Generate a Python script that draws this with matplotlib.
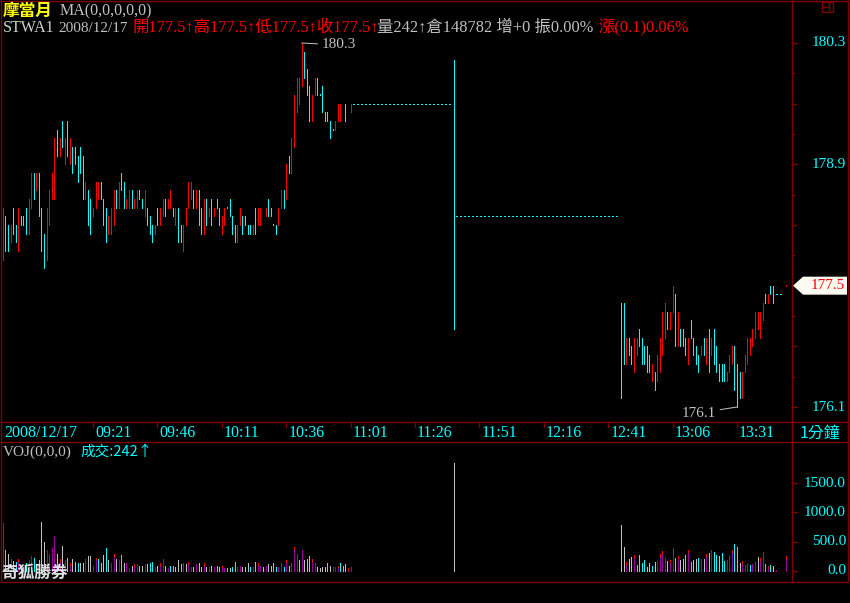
import matplotlib
matplotlib.use('Agg')
import matplotlib.pyplot as plt
import matplotlib.transforms as mtransforms
from matplotlib.patches import Polygon, Rectangle

W, H = 850, 603

# minute index 0 = 08:46
tick_pos = [35, 60, 85, 110, 135, 160, 185, 210, 235, 260, 285]
tick_labels = ['09:21', '09:46', '10:11', '10:36', '11:01', '11:26',
               '11:51', '12:16', '12:41', '13:06', '13:31']

price_ticks = [180.3, 178.9, 176.1]
last_price = 177.5
vol_ticks = [1500, 1000, 500, 0]

# morning session, minutes 0..135
am_high = [178.4, 178.3, 178.2, 178.2, 178.4, 178.2, 178.4, 178.3, 178.3, 178.4,
           178.5, 178.8, 178.8, 178.8, 178.8, 178.4, 178.1, 178.4, 178.6, 178.8,
           179.2, 179.3, 179.2, 179.4, 179.2, 179.4, 179.2, 179.1, 179.1, 179.0,
           179.1, 179.0, 178.7, 178.6, 178.5, 178.4, 178.7, 178.7, 178.7, 178.5,
           178.4, 178.3, 178.4, 178.6, 178.6, 178.7, 178.8, 178.7, 178.5, 178.6,
           178.6, 178.5, 178.6, 178.6, 178.5, 178.6, 178.4, 178.3, 178.2, 178.2,
           178.4, 178.4, 178.5, 178.5, 178.5, 178.6, 178.4, 178.4, 178.4, 178.2,
           178.2, 178.4, 178.7, 178.7, 178.6, 178.6, 178.6, 178.4, 178.5, 178.5,
           178.4, 178.5, 178.4, 178.5, 178.4, 178.3, 178.4, 178.4, 178.5, 178.3,
           178.2, 178.2, 178.4, 178.3, 178.3, 178.2, 178.2, 178.2, 178.4, 178.4,
           178.4, 178.3, 178.4, 178.5, 178.4, 178.2, 178.2, 178.4, 178.6, 178.6,
           178.9, 179.0, 179.2, 179.7, 179.9, 179.9, 180.3, 180.2, 180.0, 179.8,
           179.7, 179.9, 179.9, 179.7, 179.8, 179.5, 179.5, 179.4, 179.3, 179.4,
           179.6, 179.6, 179.5, 179.6, 179.5, 179.6]
am_low = [177.8, 177.9, 177.9, 178.0, 178.1, 178.0, 177.9, 178.2, 178.2, 178.1,
          178.1, 178.4, 178.5, 178.6, 178.3, 177.9, 177.7, 177.8, 178.2, 178.5,
          178.5, 179.0, 179.0, 179.1, 178.9, 179.0, 178.9, 178.8, 178.9, 178.7,
          178.8, 178.5, 178.5, 178.2, 178.1, 178.3, 178.4, 178.5, 178.5, 178.2,
          178.0, 178.1, 178.1, 178.2, 178.4, 178.4, 178.6, 178.4, 178.4, 178.4,
          178.4, 178.4, 178.4, 178.5, 178.4, 178.3, 178.2, 178.1, 178.0, 178.1,
          178.2, 178.2, 178.3, 178.3, 178.4, 178.4, 178.3, 178.2, 178.0, 178.0,
          177.9, 178.2, 178.4, 178.5, 178.4, 178.4, 178.2, 178.1, 178.1, 178.2,
          178.3, 178.2, 178.3, 178.4, 178.2, 178.1, 178.2, 178.4, 178.3, 178.1,
          178.0, 178.0, 178.2, 178.1, 178.2, 178.1, 178.1, 178.1, 178.1, 178.2,
          178.2, 178.3, 178.3, 178.3, 178.3, 178.2, 178.1, 178.2, 178.4, 178.4,
          178.5, 178.8, 178.8, 179.1, 179.5, 179.6, 179.8, 179.9, 179.7, 179.4,
          179.4, 179.7, 179.7, 179.7, 179.5, 179.4, 179.4, 179.2, 179.3, 179.3,
          179.4, 179.4, 179.5, 179.4, 179.5, 179.5]
am_dir = ("rccrccrccc" "rrcrcccrrr" "rcrcrcrccc" "ccrccrrrcc" "crrrcrccrr"
          "crrccrcccr" "crrcrrcrcc" "rrrrcrccrc" "rcrccrrccc" "crrccccrcr"
          "rcrccccrrc" "rcrrrrrccc" "rrcccccccr" "rrccrr")
am_vol = [811, 345, 276, 190, 161, 155, 190, 60, 60, 138,
          173, 242, 224, 60, 173, 828, 483, 345, 276, 380,
          587, 276, 190, 431, 173, 224, 121, 207, 155, 138,
          138, 121, 190, 242, 242, 86, 224, 207, 121, 259,
          380, 173, 138, 276, 207, 173, 259, 121, 121, 35,
          86, 104, 104, 86, 86, 104, 104, 138, 155, 52,
          86, 121, 207, 86, 35, 86, 86, 69, 173, 104,
          121, 104, 155, 52, 52, 104, 138, 69, 121, 69,
          69, 86, 69, 86, 69, 86, 35, 35, 35, 52,
          155, 69, 86, 69, 52, 121, 52, 52, 155, 121,
          86, 52, 86, 104, 86, 121, 52, 69, 138, 52,
          173, 86, 121, 397, 276, 173, 345, 173, 207, 242,
          190, 121, 69, 35, 69, 69, 121, 86, 69, 52,
          86, 121, 86, 104, 35, 69]
am_vcol = ("pcgrgcrgcc" "ppcggggppp" "pgrgpcrggc" "ggpggprcgg" "cgprgpcgpp"
           "grpcgpgccp" "grpgpccggc" "rgrpgpggrg" "pgpcgrpcgc" "cppgggcpcr"
           "pgpggccppc" "rgrrpgpggg" "rpggggcgpp" "rccgrp")

# afternoon session, minutes 240..299
pm_start = 240
pm_high = [177.3, 177.3, 176.9, 176.9, 176.8, 176.9, 176.9, 177.0, 176.9, 176.8,
           176.8, 176.7, 176.6, 176.5, 176.7, 176.9, 177.2, 177.3, 177.2, 177.2,
           177.5, 177.4, 177.2, 177.0, 177.0, 176.9, 176.9, 177.1, 176.9, 176.8,
           176.7, 176.8, 176.9, 176.9, 177.0, 176.9, 177.0, 176.8, 176.6, 176.6,
           176.6, 176.5, 176.7, 176.8, 176.8, 176.6, 176.5, 176.5, 176.7, 176.9,
           176.9, 177.0, 177.2, 177.2, 177.2, 177.3, 177.4, 177.4, 177.5, 177.5]
pm_low = [176.2, 176.6, 176.6, 176.7, 176.6, 176.5, 176.7, 176.8, 176.6, 176.6,
          176.5, 176.5, 176.4, 176.3, 176.4, 176.5, 176.7, 176.9, 177.0, 177.0,
          177.2, 176.8, 176.8, 176.8, 176.8, 176.7, 176.6, 176.9, 176.7, 176.6,
          176.5, 176.7, 176.7, 176.6, 176.5, 176.7, 176.6, 176.5, 176.4, 176.4,
          176.4, 176.4, 176.5, 176.6, 176.3, 176.1, 176.2, 176.2, 176.5, 176.6,
          176.7, 176.8, 176.9, 177.0, 176.9, 177.1, 177.3, 177.3, 177.4, 177.3]
pm_dir = ("ccrccrrccc" "ccrcrrrrcr" "rcrcccrccc" "crcrcrcccc" "crrrcccrrr"
          "rrrrrrcrcc")
pm_vol = [787, 399, 146, 202, 230, 264, 96, 264, 129, 180,
          67, 129, 79, 146, 163, 281, 332, 214, 163, 180,
          382, 214, 247, 180, 197, 264, 348, 146, 180, 197,
          214, 197, 197, 281, 298, 348, 315, 264, 247, 298,
          163, 180, 247, 348, 450, 399, 129, 163, 96, 112,
          96, 112, 146, 230, 214, 315, 112, 79, 96, 79]
pm_vcol = ("ggrggrcccc" "ggcgprrpgr" "rcrggcrcgg" "cpgrgrccgc" "crrrccgrpr"
           "cprgrrcrcg")

# single trades during the quiet period and at the close
odd_min = [175, 304]
odd_high = [180.1, 177.5]
odd_low = [177.0, 177.5]
odd_dir = "cr"
odd_vol_min = [175, 300, 304]
odd_vol = [1850, 11, 247]
odd_vcol = "gpr"

# minutes without trades (flat dotted close)
flat_start = [136, 176, 300]
flat_end = [174, 239, 303]
flat_price = [179.6, 178.3, 177.4]

RED = '#ff0000'
CYAN = '#00ffff'
GRAY = '#c0c0c0'
BORDER = '#800000'
PURPLE = '#a000a0'
dir_color = {'r': RED, 'c': CYAN}
vol_color = {'p': PURPLE, 'r': PURPLE, 'g': GRAY, 'c': CYAN}
serif = ['Liberation Serif', 'Noto Sans CJK TC']
cjk = ['Noto Sans CJK TC', 'Liberation Serif']

PX = 0.72  # one pixel in points

fig = plt.figure(figsize=(W / 100, H / 100), dpi=100, facecolor='black')


def frac(x0, y0, x1, y1):
    return [x0 / W, 1 - y1 / H, (x1 - x0) / W, (y1 - y0) / H]


axp = fig.add_axes(frac(2, 2, 792, 422))
axv = fig.add_axes(frac(2, 442, 792, 582))
xlim = ((2 - 2.84) / 2.576, (792 - 2.84) / 2.576)
for a in (axp, axv):
    a.set_facecolor('black')
    a.set_xlim(*xlim)
    a.axis('off')
axp.set_ylim(175.927, 180.773)
axv.set_ylim(-198, 2215)

# price bars
mins, his, los, cols = [], [], [], []
for k in range(len(am_high)):
    mins.append(k); his.append(am_high[k]); los.append(am_low[k]); cols.append(dir_color[am_dir[k]])
for k in range(len(pm_high)):
    mins.append(pm_start + k); his.append(pm_high[k]); los.append(pm_low[k]); cols.append(dir_color[pm_dir[k]])
for k in range(len(odd_min)):
    mins.append(odd_min[k]); his.append(odd_high[k]); los.append(odd_low[k]); cols.append(dir_color[odd_dir[k]])
his = [h + 0.006 if h == l else h for h, l in zip(his, los)]
axp.vlines(mins, los, his, colors=cols, lw=PX, antialiased=False)

axp.hlines(flat_price, flat_start, flat_end, colors=CYAN, lw=1.0,
           linestyles=(0, (1, 2)), antialiased=False)

# high / low labels
axp.annotate('180.3', xy=(116, 180.3), xytext=(20, -2), textcoords='offset pixels',
             color=GRAY, fontsize=11, family=serif, ha='left', va='center',
             arrowprops=dict(arrowstyle='-', color=GRAY, lw=PX, shrinkA=1, shrinkB=0))
axp.annotate('176.1', xy=(285, 176.1), xytext=(-21, -6), textcoords='offset pixels',
             color=GRAY, fontsize=11, family=serif, ha='right', va='center',
             arrowprops=dict(arrowstyle='-', color=GRAY, lw=PX, shrinkA=1, shrinkB=0))

# volume bars
vm, vv, vc, cap_m, cap_v = [], [], [], [], []
for start, vols, vcs in ((0, am_vol, am_vcol), (pm_start, pm_vol, pm_vcol)):
    for k, v in enumerate(vols):
        vm.append(start + k); vv.append(v); vc.append(vol_color[vcs[k]])
        if vcs[k] == 'r':
            cap_m.append(start + k); cap_v.append(v)
for k, m in enumerate(odd_vol_min):
    vm.append(m); vv.append(odd_vol[k]); vc.append(vol_color[odd_vcol[k]])
    if odd_vcol[k] == 'r':
        cap_m.append(m); cap_v.append(odd_vol[k])
axv.vlines(vm, 0, vv, colors=vc, lw=PX, antialiased=False)
axv.vlines(cap_m, [v - 34 for v in cap_v], cap_v, colors=RED, lw=PX, antialiased=False)

# overlay in pixel coordinates for frame and texts
ov = fig.add_axes([0, 0, 1, 1])
ov.set_xlim(0, W)
ov.set_ylim(H, 0)
ov.axis('off')
ov.patch.set_alpha(0)

bl = dict(color=BORDER, lw=1.0, solid_capstyle='butt')
for y in (1, 422, 442, 582):
    ov.plot([0, 848], [y, y], **bl)
for x in (1, 792, 848):
    ov.plot([x, x], [0, 582], **bl)
ov.add_patch(Rectangle((822, 1.5), 11.5, 10, fill=False, ec=BORDER, lw=1.0))
ov.plot([829.5, 829.5], [1.5, 11.5], **bl)
ov.plot([822, 829.5], [6.5, 6.5], **bl)

# header
ov.text(3, 11, '摩當月', color='#ffff00', fontsize=12, fontweight='bold', family=cjk, va='center')
ov.text(60, 11, 'MA(0,0,0,0,0)', color=GRAY, fontsize=11.5, family=serif, va='center')
ov.text(3, 28, 'STWA1', color='#c8d8c8', fontsize=11.5, family=serif, va='center')
ov.text(58, 28, '2008/12/17', color=GRAY, fontsize=11, family=serif, va='center')
ov.text(133, 28, '開177.5↑高177.5↑低177.5↑收177.5↑', color=RED, fontsize=11.8,
        family=serif, va='center')
ov.text(377, 28, '量242↑倉148782 增+0 振0.00%', color=GRAY, fontsize=11.8,
        family=serif, va='center')
ov.text(598, 28, '漲(0.1)0.06%', color=RED, fontsize=11.8, family=serif, va='center')

# right price scale
py = mtransforms.blended_transform_factory(ov.transData, axp.transData)
for k in range(13):
    p = 180.3 - 0.35 * k
    ln = 4 if k % 4 == 0 else (3 if k % 2 == 0 else 1.2)
    if abs(p - last_price) > 0.01:
        ov.plot([793, 793 + ln], [p, p], color=BORDER, lw=1.0, transform=py)
for p in price_ticks:
    ov.text(846, p, f'{p:.1f}', color=CYAN, fontsize=11, family=serif,
            ha='right', va='center', transform=py)
hh = 9 / 86.67
ov.add_patch(Polygon([(793, last_price), (803, last_price + hh), (847, last_price + hh),
                      (847, last_price - hh), (803, last_price - hh)],
                     closed=True, fc='#fffaf0', ec='none', transform=py))
ov.text(845, last_price, f'{last_price:.1f}', color=RED, fontsize=11, family=serif,
        ha='right', va='center', transform=py)

# time strip
tx = mtransforms.blended_transform_factory(axp.transData, ov.transData)
ov.text(4, 433, '2008/12/17', color=CYAN, fontsize=11.5, family=serif, va='center')
for pos, lab in zip(tick_pos, tick_labels):
    ov.plot([pos, pos], [422, 427], color=BORDER, lw=1.0, transform=tx)
    ov.text(pos + 0.8, 433, lab, color=CYAN, fontsize=11.5, family=serif,
            va='center', transform=tx)
ov.text(800, 433, '1分鐘', color=CYAN, fontsize=11.5, family=cjk, va='center')

# volume panel
ov.text(3, 452, 'VOJ(0,0,0)', color=GRAY, fontsize=11, family=serif, va='center')
ov.text(80, 452, '成交:242↑', color=CYAN, fontsize=10.5, family=cjk, va='center')
vy = mtransforms.blended_transform_factory(ov.transData, axv.transData)
for v in vol_ticks:
    ov.plot([793, 797], [v, v], color=BORDER, lw=1.0, transform=vy)
    ov.text(846, v, f'{v:.1f}', color=CYAN, fontsize=11, family=serif,
            ha='right', va='center', transform=vy)
ov.text(1, 573, '奇狐勝券', color='#e0e0e0', fontsize=12, fontweight='bold',
        family=cjk, va='center')

fig.savefig('out.png', dpi=100, facecolor='black')
